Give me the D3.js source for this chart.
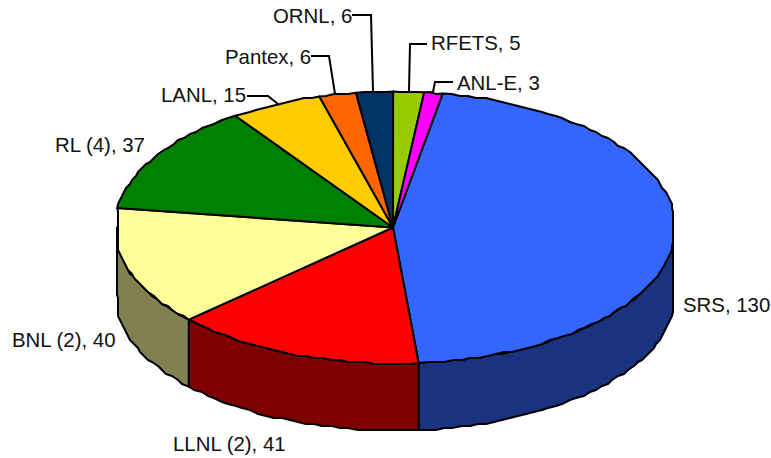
<!DOCTYPE html>
<html><head><meta charset="utf-8">
<script src="https://cdnjs.cloudflare.com/ajax/libs/d3/7.8.5/d3.min.js"></script>
<style>html,body{margin:0;padding:0;background:#fff}svg{display:block}
text{font-family:"Liberation Sans",Arial,sans-serif;font-size:20.4px;fill:#111}</style>
</head><body><svg id="c" width="771" height="458"></svg>
<script>
const categories = ["SRS","LLNL (2)","BNL (2)","RL (4)","LANL","Pantex","ORNL","RFETS","ANL-E"];
const values = [130,41,40,37,15,6,6,5,3];
const topColors = ["#3366ff","#ff0000","#ffff99","#008000","#ffcc00","#ff6600","#003366","#99cc00","#ff00ff"];
const sideColors = ["#1a3380","#800000","#808050","#004000","#806600","#803300","#001a33","#4d6600","#800080"];

// layout (label anchors and leader elbows)
const labelPos = [[683,312],[173,451],[12,347],[55,152],[161,102],[225,64],[273,23],[431,50],[457,90]];
const leaders = [null,null,null,null,
  [[247,96],[268,96],[278,104]],
  [[311,56],[329,56],[335,94]],
  [[352,15],[371,15],[373,91]],
  [[427,44],[410,44],[409,91]],
  [[453,82],[435,82],[433,92]]];

const cx=395, cy=227.5, rx=280.5, ry=136, depth=67, step=1.8*Math.PI/180, grid=2;
const apex=[393,227.5], xMin=117, xMax=673;
const svg=d3.select("#c");
const rad=d=>d*Math.PI/180;
const pie=d3.pie().sort(null).startAngle(rad(9.8)).endAngle(rad(369.8));
const arcs=pie(values);
const sx=d3.scaleLinear().domain([-1,1]).range([cx-rx,cx+rx]);
const sy=d3.scaleLinear().domain([-1,1]).range([cy+ry,cy-ry]);
const snap=v=>Math.round(v/grid)*grid;
function rim(a0,a1,dy=0){
  const n=Math.max(1,Math.ceil((a1-a0)/step));
  return d3.range(n+1).map(i=>{
    const a=a0+(a1-a0)*i/n;
    const x=Math.max(xMin,Math.min(xMax,sx(Math.sin(a)))), y=sy(Math.cos(a))+dy;
    return (i===0||i===n)?[x,y]:[Math.max(xMin,Math.min(xMax,snap(x))),snap(y)];
  });
}
const line=d3.line();
const gSide=svg.append("g"), gTop=svg.append("g");
arcs.forEach((d,i)=>{
  const a0=Math.max(d.startAngle,rad(90)), a1=Math.min(d.endAngle,rad(270));
  if(a1<=a0) return;
  const pts=rim(a0,a1).concat(rim(a0,a1,depth).reverse());
  gSide.append("path").attr("d",line(pts)+"Z")
    .attr("fill",sideColors[i]).attr("stroke","#000").attr("stroke-width",2).attr("stroke-linejoin","round");
});
arcs.forEach((d,i)=>{
  const pts=[apex].concat(rim(d.startAngle,d.endAngle));
  gTop.append("path").attr("d",line(pts)+"Z")
    .attr("fill",topColors[i]).attr("stroke","#000").attr("stroke-width",2).attr("stroke-linejoin","round");
});
leaders.forEach(l=>{ if(l) svg.append("path").attr("d",line(l)).attr("fill","none").attr("stroke","#000").attr("stroke-width",2); });
categories.forEach((c,i)=>{
  svg.append("text").attr("x",labelPos[i][0]).attr("y",labelPos[i][1]).text(c+", "+values[i]);
});
</script></body></html>
